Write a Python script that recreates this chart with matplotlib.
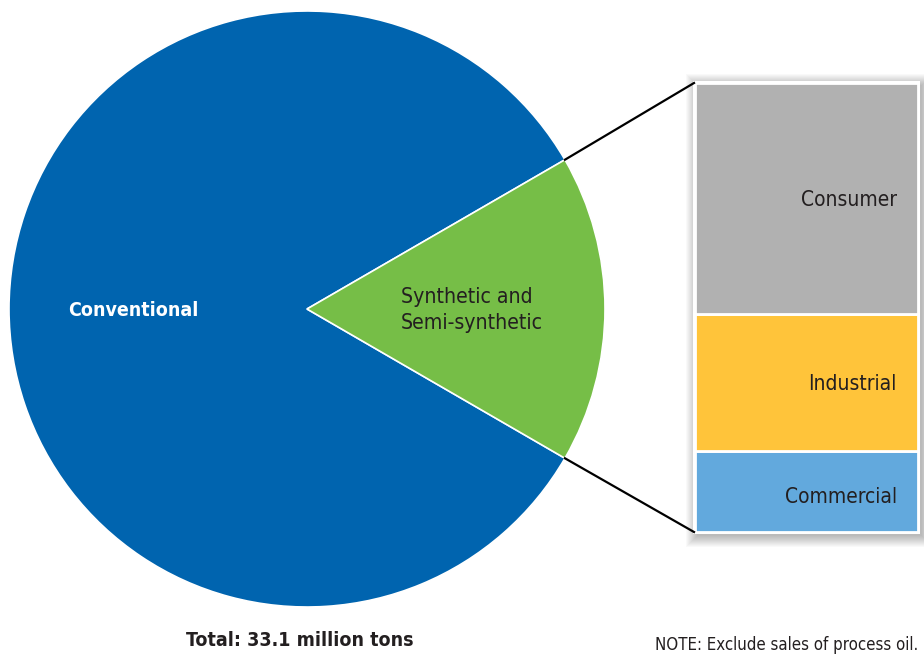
import numpy as np
import matplotlib
matplotlib.use("Agg")
import matplotlib.pyplot as plt
from matplotlib.patches import Rectangle

# ── Data ──
pie_labels = ["Conventional", "Synthetic and\nSemi-synthetic"]
pie_shares = [83.3, 16.7]
pie_colors = ["#0064AF", "#76BE47"]

bar_labels = ["Commercial", "Industrial", "Consumer"]   # bottom -> top
bar_shares = [18.0, 30.5, 51.5]
bar_colors = ["#62A9DD", "#FFC43A", "#B1B1B1"]

total_text = "Total: 33.1 million tons"
note_text = "NOTE: Exclude sales of process oil."

FONT = ["DejaVu Sans"]
TXT = "#231F20"
W, H = 924, 655

fig = plt.figure(figsize=(W / 100, H / 100), dpi=100)
ax = fig.add_axes([0, 0, 1, 1])
ax.set_xlim(0, W)
ax.set_ylim(0, H)
ax.axis("off")

# ── Pie ──
cx, cy, r = 307, H - 309, 298
syn_angle = pie_shares[1] / sum(pie_shares) * 360
wedges, _ = ax.pie(pie_shares, colors=pie_colors, center=(cx, cy), radius=r,
                   startangle=syn_angle / 2, counterclock=True,
                   wedgeprops=dict(edgecolor="white", linewidth=1.2))
ax.set_xlim(0, W)
ax.set_ylim(0, H)
ax.set_aspect("equal")

ax.text(133, H - 311, pie_labels[0], color="white", fontsize=14, fontstretch="condensed",
        fontweight="bold", ha="center", va="center", family=FONT)
ax.text(401, H - 310, pie_labels[1], color=TXT, fontsize=15.2, fontstretch="condensed",
        ha="left", va="center", family=FONT, linespacing=1.4)

# ── Stacked bar ──
bx0, bx1 = 695, 918
by_top, by_bot = H - 83, H - 532
scale = (by_top - by_bot) / sum(bar_shares)
bw = bx1 - bx0

# soft drop shadow
for i in range(12):
    g = 12 - i
    ax.add_patch(Rectangle((bx0 - g + 3, by_bot - g - 3), bw + 2 * g, (by_top - by_bot) + 2 * g,
                           facecolor="black", edgecolor="none", alpha=0.022, zorder=2))
ax.add_patch(Rectangle((bx0 - 2, by_bot - 2), bw + 4, (by_top - by_bot) + 4,
                       facecolor="white", edgecolor="none", zorder=3))

bottom = by_bot
for lab, val, col in zip(bar_labels, bar_shares, bar_colors):
    h = val * scale
    ax.bar(bx0, h, width=bw, bottom=bottom, align="edge", color=col,
           edgecolor="white", linewidth=2, zorder=4)
    bottom += h

label_pos = {"Consumer": H - 200, "Industrial": H - 384, "Commercial": H - 497}
for lab in bar_labels:
    ax.text(897, label_pos[lab], lab, color=TXT, fontsize=15, ha="right", fontstretch="condensed",
            va="center", family=FONT, zorder=5)

# ── Connector lines ──
a = np.deg2rad(syn_angle / 2)
ax.plot([cx + r * np.cos(a), bx0 - 1], [cy + r * np.sin(a), by_top], color="black", lw=1.6, zorder=5)
ax.plot([cx + r * np.cos(a), bx0 - 1], [cy - r * np.sin(a), by_bot], color="black", lw=1.6, zorder=5)

# ── Footer ──
ax.text(300, H - 641, total_text, color=TXT, fontsize=14, fontweight="bold", fontstretch="condensed",
        ha="center", va="center", family=FONT)
ax.text(918, H - 645, note_text, color=TXT, fontsize=12.1, ha="right", fontstretch="condensed",
        va="center", family=FONT)

fig.savefig("out.png", dpi=100)
